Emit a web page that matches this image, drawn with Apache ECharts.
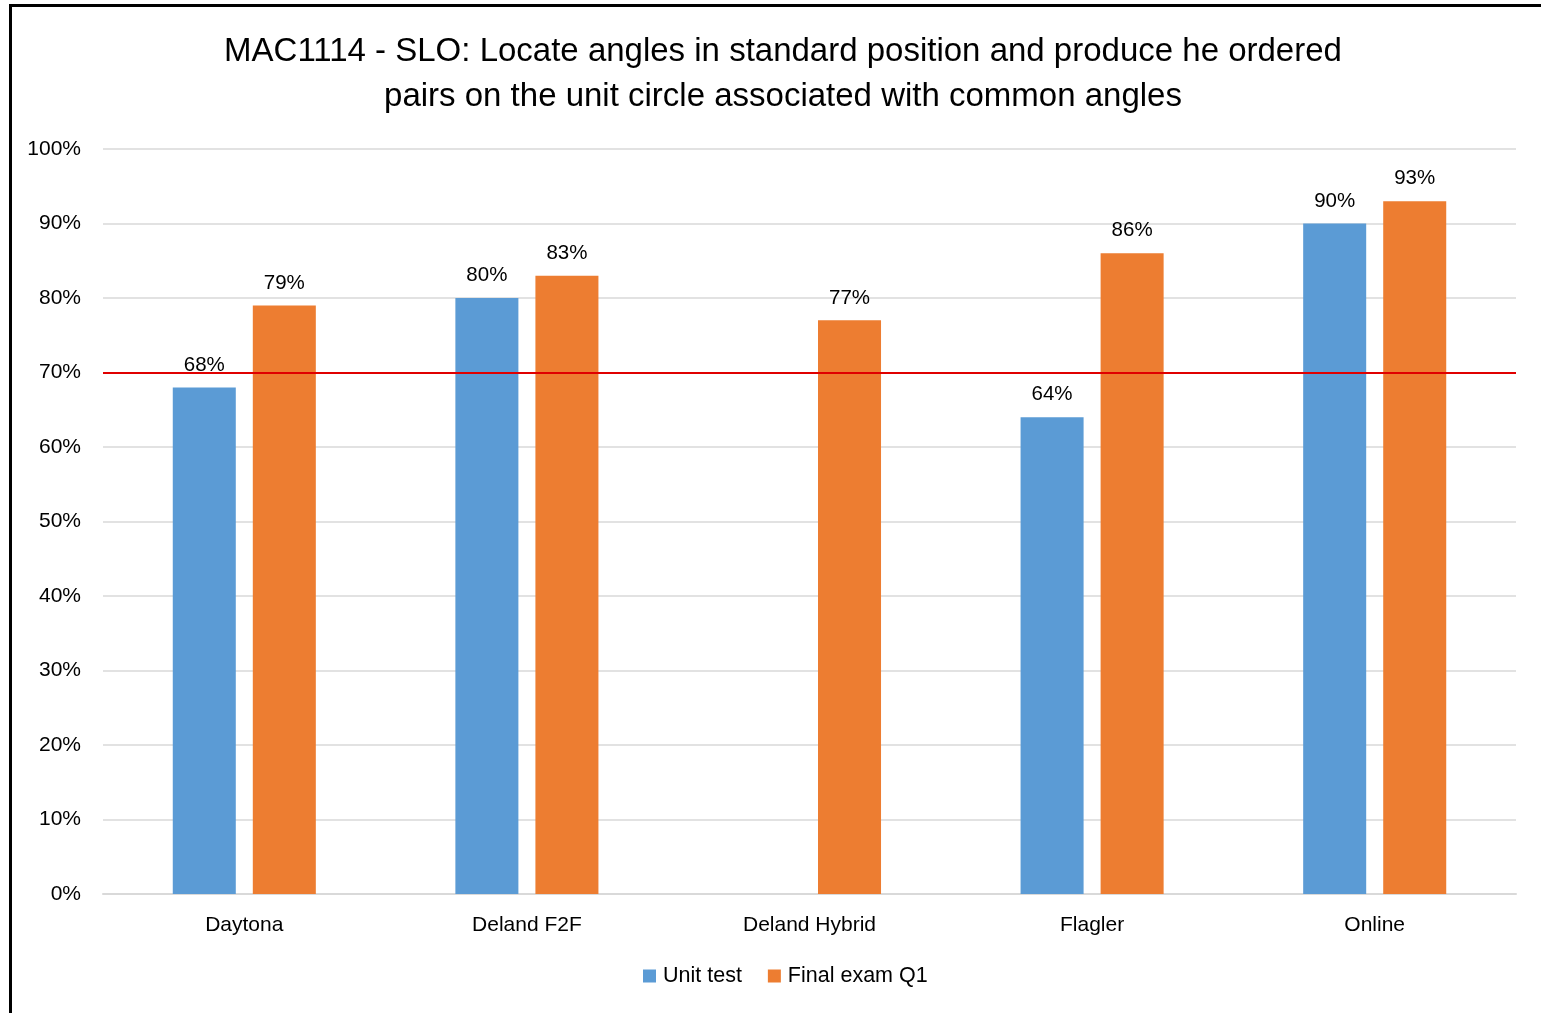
<!DOCTYPE html>
<html><head><meta charset="utf-8">
<script src="https://cdn.jsdelivr.net/npm/echarts@6/dist/echarts.min.js"></script>
<style>
html,body{margin:0;padding:0;background:#fff;overflow:hidden;}
#frame{position:absolute;left:9px;top:4px;width:1540px;height:1020px;border:3px solid #000;box-sizing:border-box;}
#c{position:absolute;left:0;top:0;width:1541px;height:1013px;}
</style></head>
<body><div id="frame"></div><div id="c"></div>
<script>
const categories = ['Daytona','Deland F2F','Deland Hybrid','Flagler','Online'];
const unitTest = [68, 80, null, 64, 90];
const finalExam = [79, 83, 77, 86, 93];
const yTicks = [0,10,20,30,40,50,60,70,80,90,100];
const target = 70;
const FONT = 'Liberation Sans';
const chart = echarts.init(document.getElementById('c'));
const lbl = {show:true, position:'top', distance:12, formatter: p => p.value + '%', color:'#000', fontSize:20.5, fontFamily:FONT};
chart.setOption({
  animation:false,
  title:{text:'MAC1114 - SLO: Locate angles in standard position and produce he ordered\npairs on the unit circle associated with common angles', left:778, textAlign:'center', top:24,
    textStyle:{fontFamily:FONT, fontSize:33, fontWeight:'normal', color:'#000', lineHeight:45}},
  grid:{left:103, right:25, top:149, bottom:119, containLabel:false},
  legend:{bottom:21, left:638, itemWidth:13, itemHeight:13, itemGap:26, icon:'rect',
    textStyle:{fontFamily:FONT, fontSize:21.5, color:'#000', padding:[0,0,0,2]}},
  xAxis:{type:'category', data:categories, axisTick:{show:false},
    axisLine:{lineStyle:{color:'#d9d9d9', width:2}},
    axisLabel:{fontFamily:FONT, fontSize:21, color:'#000', margin:21}},
  yAxis:{type:'value', min:0, max:100, interval:10, axisLine:{show:false}, axisTick:{show:false},
    splitLine:{lineStyle:{color:'#d9d9d9', width:1.5}},
    axisLabel:{fontFamily:FONT, fontSize:21, color:'#000', margin:22, formatter: v => yTicks.includes(v) ? v + '%' : ''}},
  series:[
    {name:'Unit test', type:'bar', data:unitTest, barWidth:'22.3%', barGap:'27%', itemStyle:{color:'#5b9bd5'}, label:lbl,
     markLine:{silent:true, symbol:'none', label:{show:false}, lineStyle:{color:'#e00000', width:2, type:'solid'}, data:[{yAxis:target}]}},
    {name:'Final exam Q1', type:'bar', data:finalExam, barWidth:'22.3%', barGap:'27%', itemStyle:{color:'#ed7d31'}, label:lbl}
  ]
});
</script></body></html>
